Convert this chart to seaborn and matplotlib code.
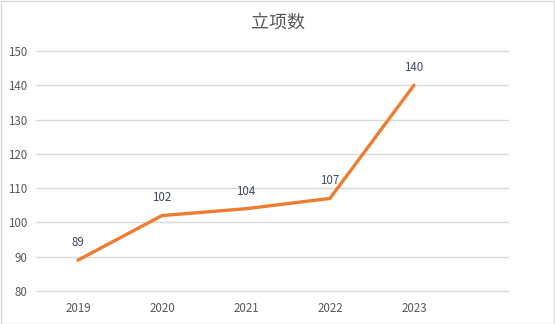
import matplotlib
matplotlib.use("Agg")
import matplotlib.pyplot as plt
import seaborn as sns
import pandas as pd
from matplotlib.patches import Rectangle

years = ["2019", "2020", "2021", "2022", "2023"]
values = [89, 102, 104, 107, 140]
title = "立项数"

sns.set_theme(style="white")
plt.rcParams['font.family'] = ['Noto Sans CJK SC', 'DejaVu Sans']

df = pd.DataFrame({"pos": range(len(years)), "year": years, "value": values})

W, H = 555, 324
fig = plt.figure(figsize=(W / 100, H / 100), dpi=100)
ax = fig.add_axes([36 / W, 1 - 291 / H, (508 - 36) / W, (291 - 51) / H])

sns.lineplot(data=df, x="pos", y="value", ax=ax, color="#ED7D31", linewidth=2.4,
             solid_capstyle="round")

for p, v in zip(df["pos"], df["value"]):
    ax.annotate(str(v), (p, v), xytext=(0, 8), textcoords="offset points",
                ha="center", va="bottom", fontsize=8.3, color="#404A5A")

ax.set_xlim(-0.5, 5.12)
ax.set_ylim(80, 150)
ax.set_yticks(range(80, 151, 10))
ax.set_xticks(list(df["pos"]))
ax.set_xticklabels(years)
ax.grid(axis="y", color="#D9D9D9", linewidth=1)
ax.grid(axis="x", visible=False)
for gl in ax.get_ygridlines():
    gl.set_clip_on(False)
ax.set_axisbelow(True)
for s in ax.spines.values():
    s.set_visible(False)
ax.tick_params(axis="both", length=0, labelsize=8.3, colors="#595959", pad=8)
ax.tick_params(axis="y", pad=6)
ax.set_xlabel("")
ax.set_ylabel("")

fig.text(0.5, 1 - 23 / H, title, ha="center", va="center", fontsize=13, color="#595959")

fig.patches.append(Rectangle((0.5 / W, 0.5 / H), 1 - 1.5 / W, 1 - 1.5 / H,
                             transform=fig.transFigure, fill=False,
                             edgecolor="#D9D9D9", linewidth=1))

fig.savefig("out.png", dpi=100)
